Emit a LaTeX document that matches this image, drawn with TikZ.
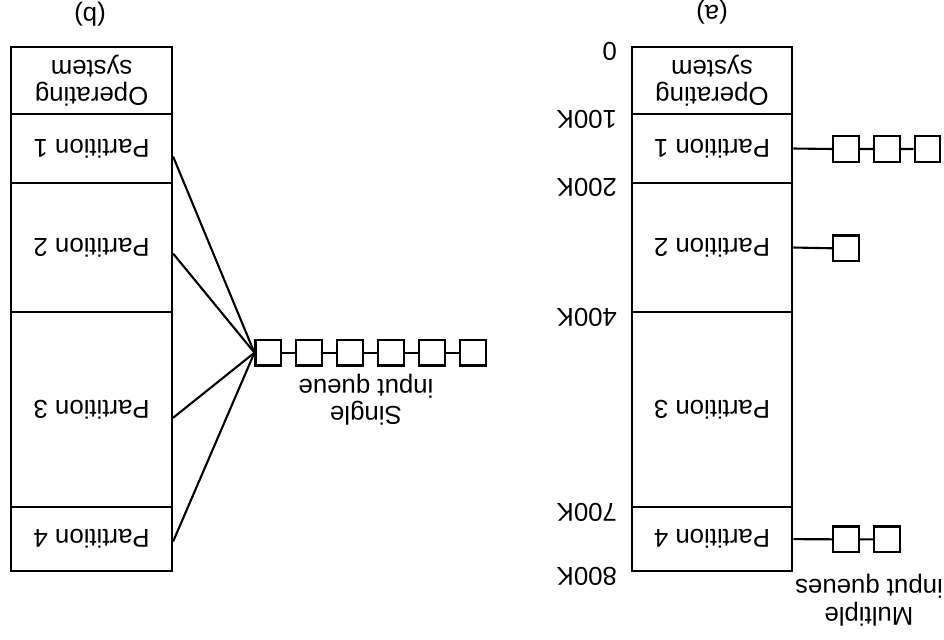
\documentclass[tikz,border=0pt]{standalone}
\usepackage{fontspec}
\setmainfont{Liberation Sans}

\tikzset{
  part/.style={draw, line width=1.15pt, minimum width=80.3pt, inner sep=0pt, align=center},
  qbox/.style={draw, line width=1.05pt, minimum size=12.8pt, inner sep=0pt},
  addr/.style={anchor=west, inner sep=0pt},
}

\begin{document}
\begin{tikzpicture}[x=0.5pt, y=0.5pt, rotate=180, transform shape, line width=1.05pt,
    every node/.style={font=\fontsize{12.9}{13.8}\selectfont}]
    \useasboundingbox (0,0) rectangle (944,639);

    % memory, (a) and (b)
    \foreach \c/\xc in {a/232, b/852.35} {
      \node[part, minimum height=33.8pt] (\c-os) at (\xc,80.5) {Operating\\system};
      \foreach \n/\yc/\h in {1/148.5/34.2, 2/247.5/64.8, 3/409.8/97.5, 4/539.15/31.85}
        \node[part, minimum height=\h pt] (\c\n) at (\xc,\yc) {Partition \n};
    }
    \foreach \v/\y in {0/51.7, 100K/119.3, 200K/187.7, 400K/317.3, 700K/512.3, 800K/576}
      \node[addr] (m\v) at (326,\y) {\v};

    % multiple input queues
    \foreach \i in {1,2,3} \node[qbox] (qa1-\i) at ({97.8-40.65*(\i-1)},149) {};
    \node[qbox] (qa2-1) at (97.8,248.3) {};
    \foreach \i in {1,2} \node[qbox] (qa4-\i) at ({97.8-40.65*(\i-1)},539.3) {};
    \draw (a1.west) -- (qa1-1.east) (qa1-1.west) -- (qa1-2.east) (qa1-2.west) -- (qa1-3.east);
    \draw (a2.west) -- (qa2-1.east);
    \draw (a4.west) -- (qa4-1.east) (qa4-1.west) -- (qa4-2.east);
    \node[align=center] (multi) at (75,600) {Multiple\\input queues};

    % single input queue
    \foreach \i in {1,...,6} \node[qbox] (qb\i) at ({675.7-40.9*(\i-1)},352.7) {};
    \foreach \i [count=\j from 2] in {1,...,5} \draw (qb\i.west) -- (qb\j.east);
    \foreach \n/\s in {1/4, 2/3, 3/4, 4/1.2} \draw ([yshift=\s pt]b\n.west) -- (qb1.east);
    \node[align=center] (single) at (578,399.5) {Single\\input queue};

    \node (capa) at (232,12.5) {(a)};
    \node (capb) at (854,14) {(b)};
\end{tikzpicture}
\end{document}
